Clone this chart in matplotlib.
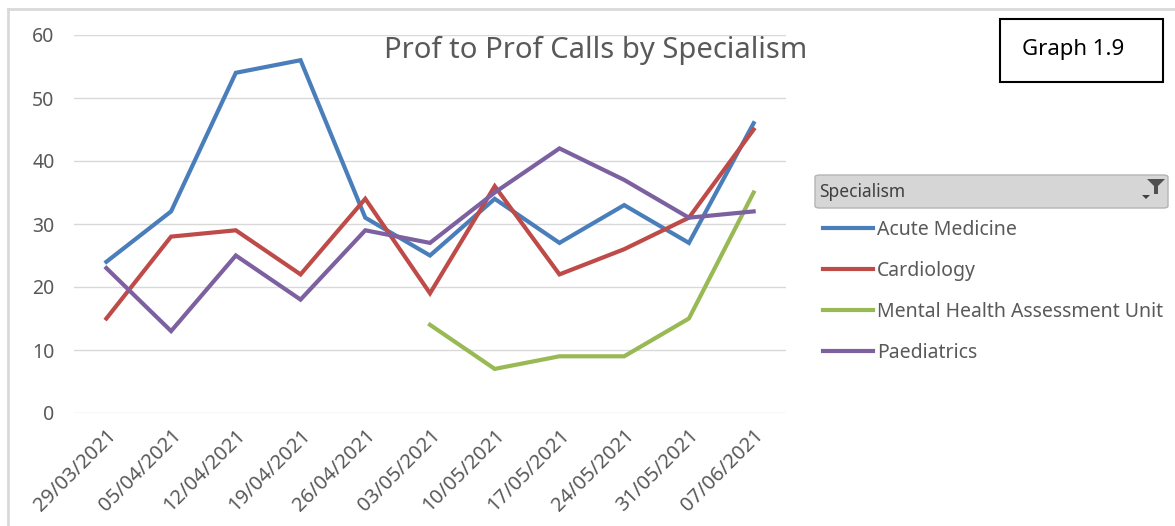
import matplotlib.pyplot as plt
from matplotlib.patches import Rectangle, FancyBboxPatch, Polygon
import numpy as np

plt.rcParams['font.family'] = ['Noto Sans', 'DejaVu Sans']

weeks = ["29/03/2021", "05/04/2021", "12/04/2021", "19/04/2021", "26/04/2021",
         "03/05/2021", "10/05/2021", "17/05/2021", "24/05/2021", "31/05/2021",
         "07/06/2021"]
acute_medicine = [24, 32, 54, 56, 31, 25, 34, 27, 33, 27, 46]
cardiology = [15, 28, 29, 22, 34, 19, 36, 22, 26, 31, 45]
mental_health = [None, None, None, None, None, 14, 7, 9, 9, 15, 35]
paediatrics = [23, 13, 25, 18, 29, 27, 35, 42, 37, 31, 32]

series = [
    ("Acute Medicine", acute_medicine, "#4A7EBB"),
    ("Cardiology", cardiology, "#BE4B48"),
    ("Mental Health Assessment Unit", mental_health, "#98B954"),
    ("Paediatrics", paediatrics, "#7D60A0"),
]

W, H = 1175, 526
fig = plt.figure(figsize=(W / 100, H / 100), dpi=100)

def fx(px):
    return px / W

def fy(py):
    return 1 - py / H

# outer chart frame (top and left edges visible)
fig.add_artist(plt.Line2D([fx(8), fx(8)], [fy(9), 0], color="#d9d9d9", lw=2))
fig.add_artist(plt.Line2D([fx(8), 1], [fy(9), fy(9)], color="#d9d9d9", lw=2))

ax = fig.add_axes([fx(74), fy(413), fx(786) - fx(74), fy(35) - fy(413)])
x = np.arange(len(weeks))
handles = []
for name, vals, col in series:
    y = np.array([np.nan if v is None else v for v in vals], dtype=float)
    h, = ax.plot(x, y, color=col, lw=3.0, solid_joinstyle="miter", label=name)
    handles.append(h)

ax.set_xlim(-0.5, len(weeks) - 0.5)
ax.set_ylim(0, 60)
ax.set_yticks(range(0, 61, 10))
ax.grid(axis="y", color="#d9d9d9", lw=1)
ax.set_axisbelow(True)
for s in ax.spines.values():
    s.set_visible(False)
ax.tick_params(length=0, colors="#595959")
ax.tick_params(axis="y", pad=14, labelsize=14)
ax.tick_params(axis="x", pad=9, labelsize=14.5)
ax.set_xticks(x)
ax.set_xticklabels(weeks, rotation=45, ha="right", rotation_mode="anchor")

fig.text(fx(596), fy(50), "Prof to Prof Calls by Specialism", ha="center",
         va="center", fontsize=21, color="#595959")

# graph number box
fig.add_artist(Rectangle((fx(1000), fy(82)), fx(163), fy(19) - fy(82),
                         transform=fig.transFigure, fill=False,
                         edgecolor="black", lw=1.5))
fig.text(fx(1073), fy(49), "Graph 1.9", ha="center", va="center",
         fontsize=16, color="black")

# legend header with filter button
fig.add_artist(FancyBboxPatch((fx(815), fy(208)), fx(353), fy(175) - fy(208),
                              boxstyle="round,pad=0,rounding_size=0.004",
                              transform=fig.transFigure, facecolor="#d6d6d6",
                              edgecolor="#b4b4b4", lw=1))
fig.text(fx(819), fy(192), "Specialism", ha="left", va="center",
         fontsize=12.5, color="#404040")
fig.add_artist(Polygon([[fx(1147), fy(179)], [fx(1165), fy(179)],
                        [fx(1158), fy(186)], [fx(1158), fy(194)],
                        [fx(1154), fy(194)], [fx(1154), fy(186)]],
                       closed=True, transform=fig.transFigure,
                       facecolor="#505050", edgecolor="none"))
fig.add_artist(Polygon([[fx(1142), fy(195)], [fx(1150), fy(195)],
                        [fx(1146), fy(199)]], closed=True,
                       transform=fig.transFigure, facecolor="#404040",
                       edgecolor="none"))

fig.legend(handles=handles, loc="upper left",
           bbox_to_anchor=(fx(815), fy(212)), frameon=False, fontsize=14,
           labelcolor="#595959", handlelength=2.6, handletextpad=0.2,
           labelspacing=1.08, borderaxespad=0)

fig.savefig("out.png", dpi=100)
